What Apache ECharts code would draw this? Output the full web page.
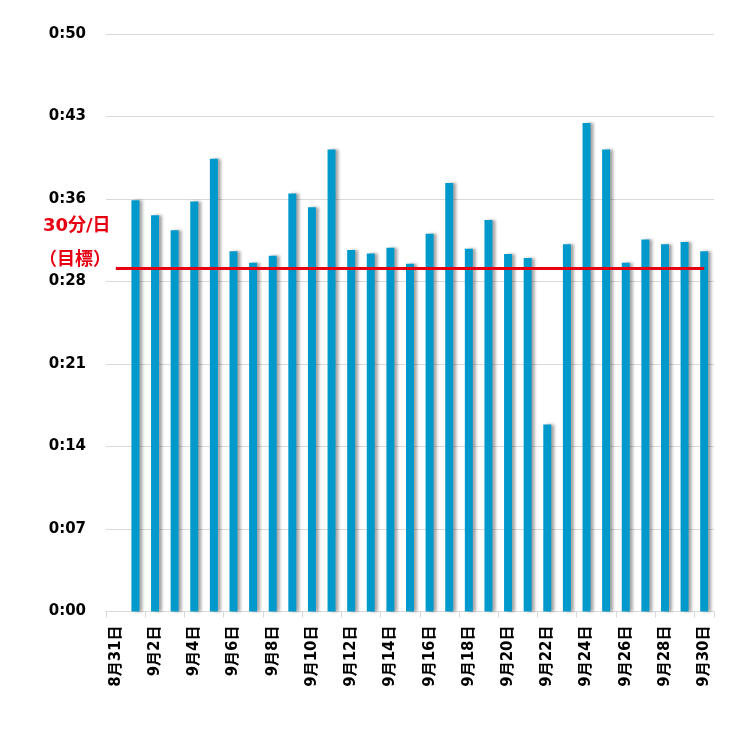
<!DOCTYPE html>
<html>
<head>
<meta charset="utf-8">
<script src="https://cdn.jsdelivr.net/npm/echarts@6/dist/echarts.min.js"></script>
<style>
html,body{margin:0;padding:0;background:#fff;}
#chart{width:754px;height:736px;}
</style>
</head>
<body>
<div id="chart"></div>
<script>
// Categories (days)
var categories = ['8月31日','9月1日','9月2日','9月3日','9月4日','9月5日','9月6日','9月7日','9月8日','9月9日','9月10日',
  '9月11日','9月12日','9月13日','9月14日','9月15日','9月16日','9月17日','9月18日','9月19日','9月20日',
  '9月21日','9月22日','9月23日','9月24日','9月25日','9月26日','9月27日','9月28日','9月29日','9月30日'];
// Daily time in minutes
var minutes = [null,35.6,34.3,33.0,35.5,39.2,31.2,30.2,30.8,36.2,35.0,
  40.0,31.3,31.0,31.5,30.1,32.7,37.1,31.4,33.9,30.95,
  30.6,16.2,31.8,42.3,40.0,30.2,32.2,31.8,32.0,31.2];
// Y axis tick labels
var yTickLabels = ['0:00','0:07','0:14','0:21','0:28','0:36','0:43','0:50'];
// Target line (minutes)
var target = 29.7;
var targetLabels = ['30分/日','（目標）'];

var font = '"DejaVu Sans", "Noto Sans CJK JP", sans-serif';
var chart = echarts.init(document.getElementById('chart'));
var yMax = 50;
var yStep = yMax / (yTickLabels.length - 1);
chart.setOption({
  animation: false,
  grid: {left: 106, right: 40, top: 34, bottom: 124.5},
  xAxis: {
    type: 'category',
    data: categories,
    boundaryGap: true,
    axisLine: {lineStyle: {color: '#d9d9d9', width: 1}},
    axisTick: {show: true, interval: 1, length: 6, lineStyle: {color: '#d9d9d9'}},
    axisLabel: {interval: 1, rotate: 90, margin: 14, color: '#000', fontWeight: 'bold', fontSize: 15, fontFamily: font}
  },
  yAxis: {
    type: 'value',
    min: 0, max: yMax, interval: yStep,
    axisLine: {show: false},
    axisTick: {show: false},
    splitLine: {lineStyle: {color: '#d9d9d9', width: 1}},
    axisLabel: {
      margin: 20, color: '#000', fontWeight: 'bold', fontSize: 15, fontFamily: font,
      formatter: function (v) { return yTickLabels[Math.round(v / yStep)]; }
    }
  },
  series: [{
    type: 'bar',
    data: minutes,
    barWidth: 8,
    itemStyle: {
      color: '#0099cc',
      shadowColor: 'rgba(0,0,0,0.35)', shadowOffsetX: 3, shadowOffsetY: 0, shadowBlur: 3
    },
    markLine: {
      symbol: 'none',
      silent: true,
      label: {show: false},
      lineStyle: {color: '#e60012', width: 3, type: 'solid'},
      data: [[{coord: [categories[0], target]}, {coord: [categories[categories.length - 1], target]}]]
    }
  }],
  graphic: [
    {type: 'text', left: 43, top: 217, style: {text: targetLabels[0], fill: '#e60012', font: 'bold 18px ' + font}},
    {type: 'text', left: 39, top: 251, style: {text: targetLabels[1], fill: '#e60012', font: 'bold 18px ' + font}}
  ]
});
</script>
</body>
</html>
